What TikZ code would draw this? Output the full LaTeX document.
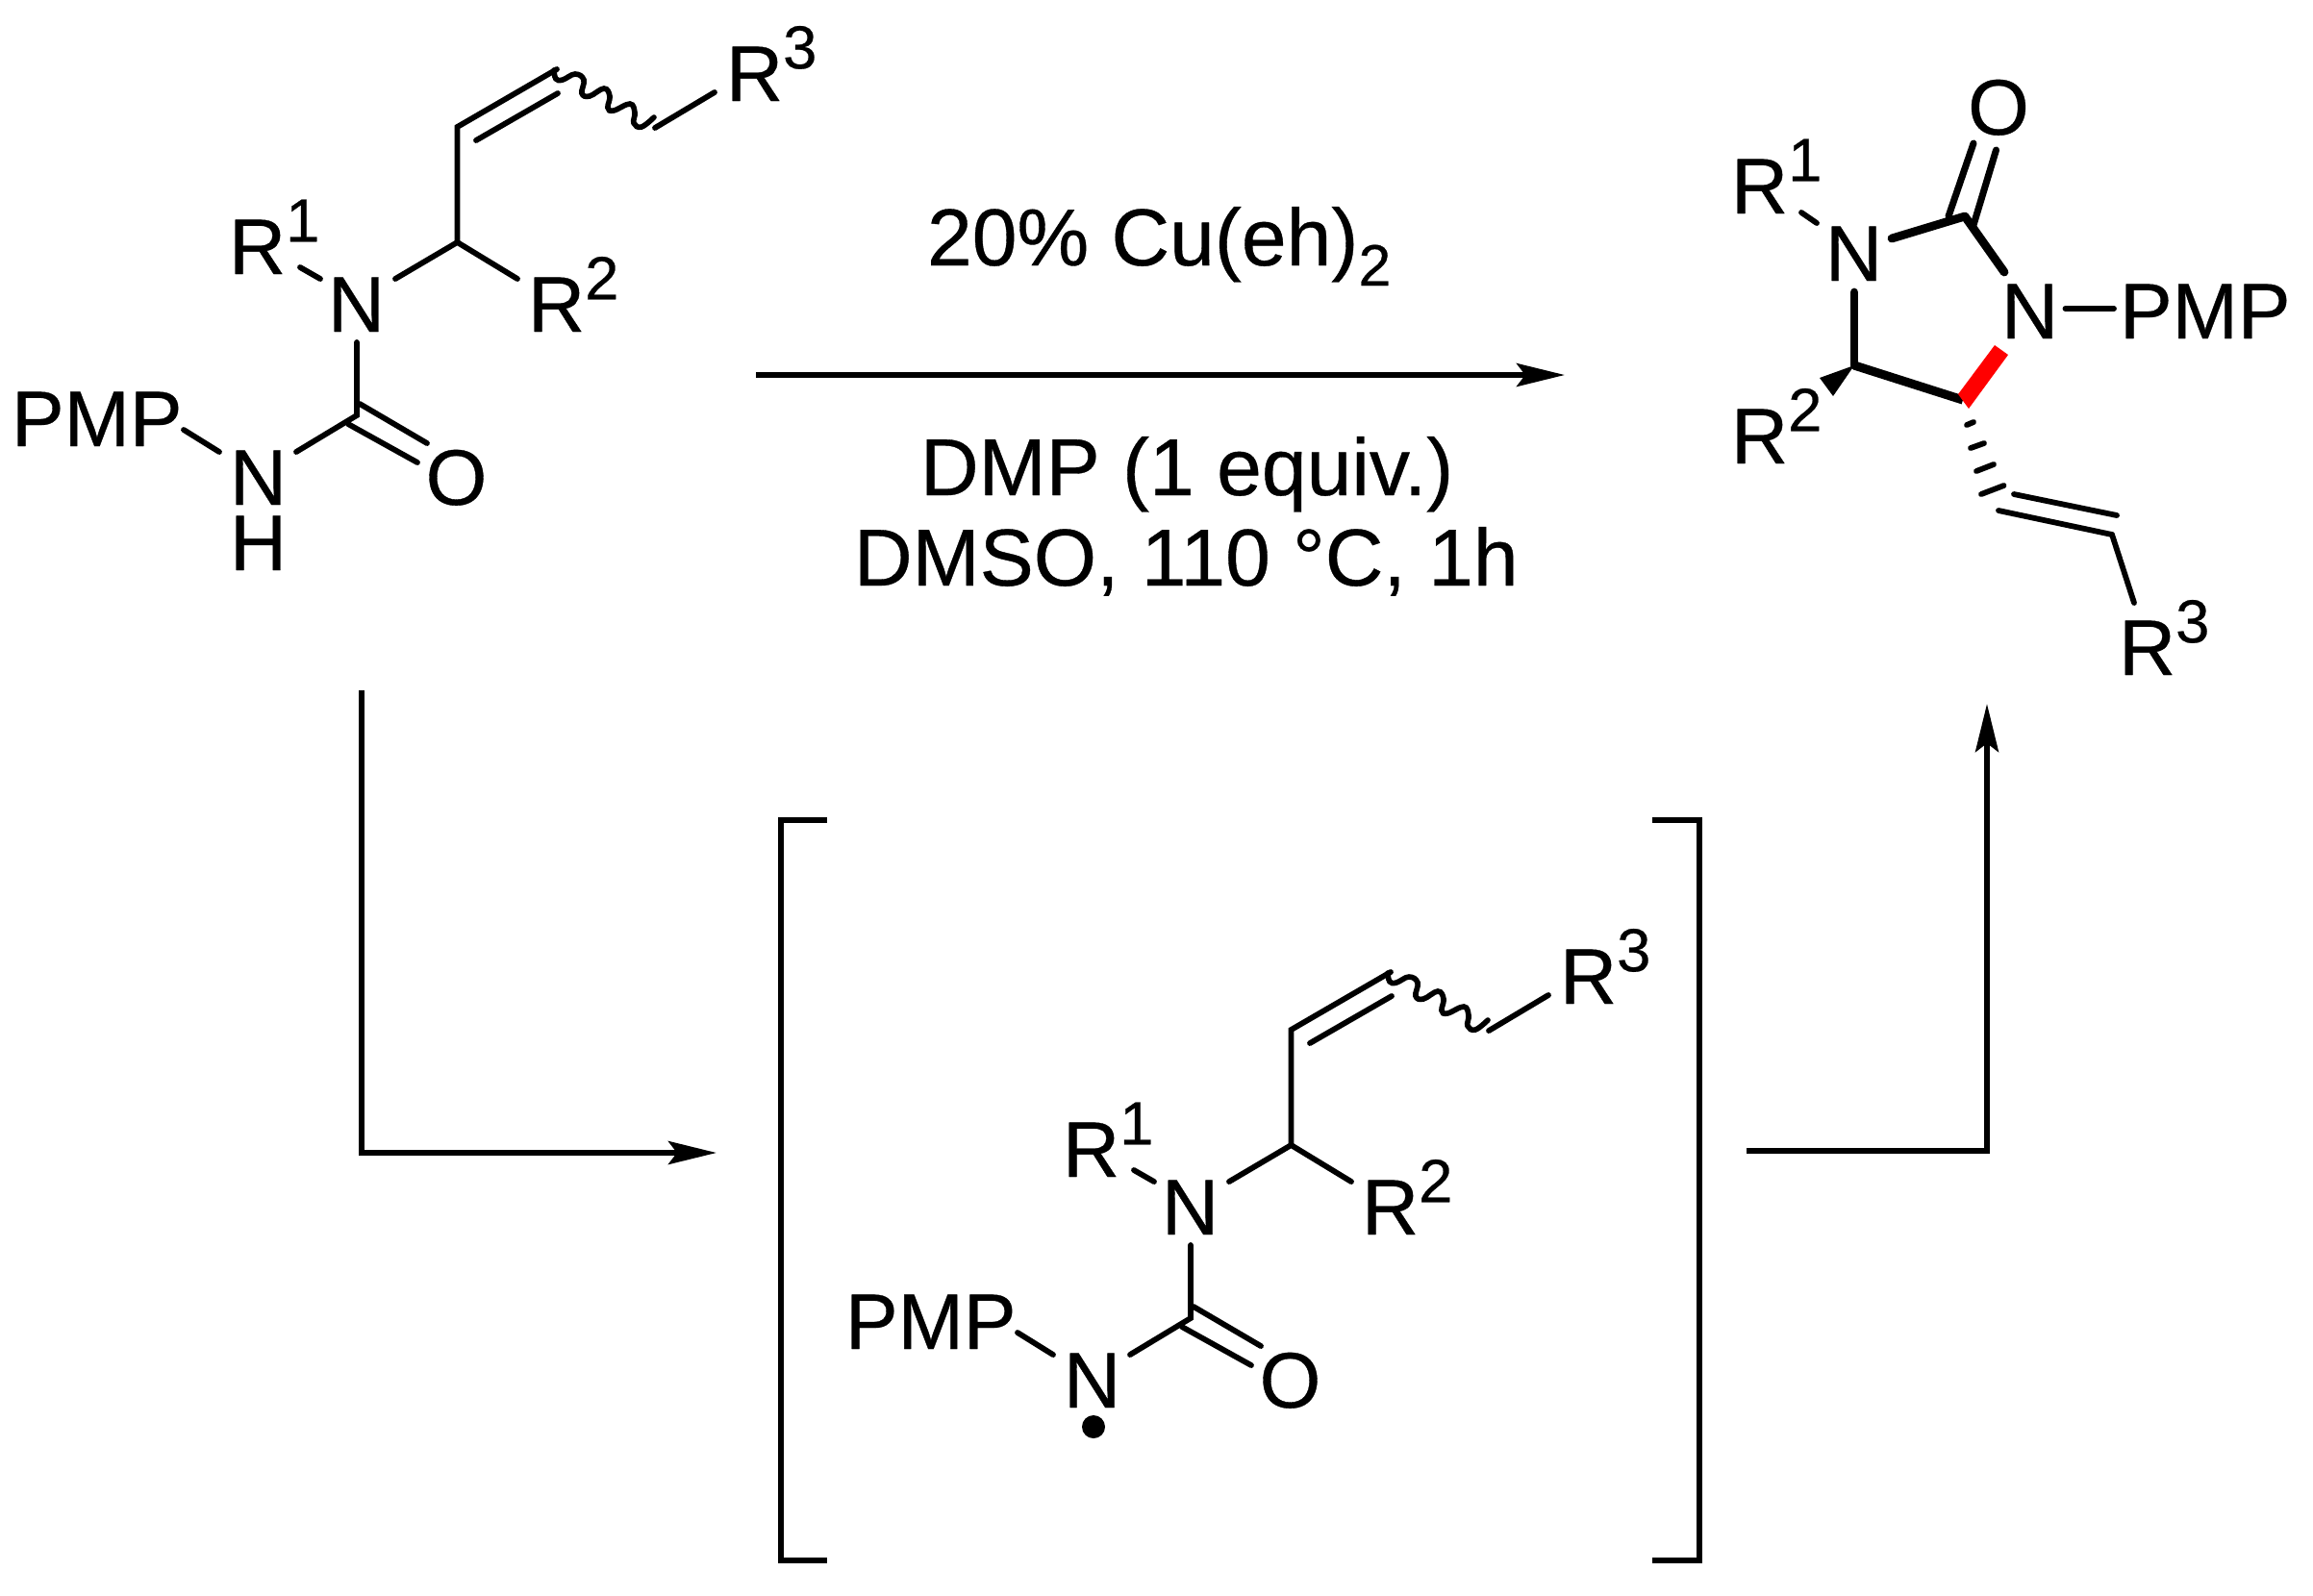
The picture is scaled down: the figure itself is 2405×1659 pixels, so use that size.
\documentclass[tikz,border=0pt]{standalone}
\usepackage{fontspec}
\setmainfont{Liberation Sans}[FakeBold=0.4]
\usetikzlibrary{arrows.meta}
\newcommand{\Rlab}[1]{R\raisebox{9.6pt}{\fontsize{18}{20}\selectfont #1}}
\tikzset{
  x=0.01cm,y=-0.01cm,
  bond/.style={line width=1.65pt,line cap=round,line join=miter},
  boldbond/.style={line width=2.5pt,line cap=round,line join=round},
  rxn/.style={line width=1.65pt,-{Stealth[length=0.5cm,width=0.24cm,inset=0.09cm]}},
  plainline/.style={line width=1.7pt},
  atom/.style={anchor=base west,inner sep=0pt,outer sep=0pt,font=\fontsize{23.3}{26}\selectfont},
  atomc/.style={anchor=base,inner sep=0pt,outer sep=0pt,font=\fontsize{23.3}{26}\selectfont},
  cond/.style={anchor=base west,inner sep=0pt,outer sep=0pt,font=\fontsize{23.9}{28}\selectfont},
  urea/.pic={
    \node[atom] (R1) at (238,285) {\Rlab{1}};
    \node[atom] (N1) at (341,345) {N};
    \node[atom] (R2) at (549,345) {\Rlab{2}};
    \node[atom] (R3) at (755,105) {\Rlab{3}};
    \node[atom] (PMP) at (12,464) {PMP};
    \node[atom] (N2) at (239,525) {N};
    \node[atomc] (O) at (474.5,525) {O};
    \coordinate (c1) at (475.5,252);
    \coordinate (c2) at (475.5,132);
    \coordinate (c3) at (579,72);
    \coordinate (c4) at (681,133);
    \coordinate (c5) at (371,432);
    \coordinate (b1) at (312,278); \coordinate (b2) at (333,290);
    \coordinate (b3) at (411,290); \coordinate (b4) at (538,290);
    \coordinate (b5) at (495,146); \coordinate (b6) at (580,97);
    \coordinate (b7) at (743,96);  \coordinate (b8) at (371,356);
    \coordinate (b9) at (308,470);
    \coordinate (d1) at (374,420); \coordinate (d2) at (444,461);
    \coordinate (d3) at (362,441); \coordinate (d4) at (434,481);
    \coordinate (p1) at (191,447); \coordinate (p2) at (228,470);
    \draw[bond] (b1) -- (b2);
    \draw[bond] (b3) -- (c1) -- (b4);
    \draw[bond] (c1) -- (c2) -- (c3);
    \draw[bond] (b5) -- (b6);
    \draw[bond] (c4) -- (b7);
    \draw[bond] (b8) -- (c5) -- (b9);
    \draw[bond] (d1) -- (d2);
    \draw[bond] (d3) -- (d4);
    \draw[bond] (p1) -- (p2);
    \draw[line width=1.6pt,line cap=round] plot[smooth,tension=0.7] coordinates {
      (576,73) (578,82) (585,83) (598,77) (607,83) (605,97) (613,100) (628,92) (634,100) (632,112) (638,115) (655,108) (660,117) (659,128) (667,132) (680,122)};
  }
}
\begin{document}
\begin{tikzpicture}
\useasboundingbox (0,0) rectangle (2405,1659);
% reactant
\pic[name prefix=A-] at (0,0) {urea};
\node[atom] (A-H) at (239,593) {H};
% intermediate
\pic[name prefix=B-] at (867,939) {urea};
\fill (1137,1484) circle[radius=12] coordinate (dot);
% conditions
\node[cond] (cat) at (964,276) {20\% Cu(eh)\raisebox{-6pt}{\fontsize{17.3}{20}\selectfont 2}};
\node[cond] (ox) at (957,515) {DMP (1 equiv.)};
\node[cond] (sol) at (888,609) {DMSO, 110 °C, 1h};
% arrows
\coordinate (t1) at (786,390); \coordinate (t2) at (1627,390);
\draw[rxn] (t1) -- (t2);
\coordinate (u1) at (376,718); \coordinate (u2) at (376,1199); \coordinate (u3) at (745,1199);
\draw[rxn] (u1) -- (u2) -- (u3);
\coordinate (v1) at (1816,1197); \coordinate (v2) at (2066,1197); \coordinate (v3) at (2066,732);
\draw[rxn] (v1) -- (v2) -- (v3);
% brackets
\coordinate (bl1) at (860,852.5); \coordinate (bl2) at (812,852.5); \coordinate (bl3) at (812,1622.5); \coordinate (bl4) at (860,1622.5);
\draw[plainline] (bl1) -- (bl2) -- (bl3) -- (bl4);
\coordinate (br1) at (1718,852.5); \coordinate (br2) at (1767,852.5); \coordinate (br3) at (1767,1622.5); \coordinate (br4) at (1718,1622.5);
\draw[plainline] (br1) -- (br2) -- (br3) -- (br4);
% product
\node[atom] (P-R1) at (1800,222) {\Rlab{1}};
\node[atom] (P-N1) at (1898,292) {N};
\node[atom] (P-N2) at (2081,352) {N};
\node[atom] (P-PMP) at (2204,352) {PMP};
\node[atomc] (P-O) at (2078,140) {O};
\node[atom] (P-R2) at (1800,482) {\Rlab{2}};
\node[atom] (P-R3) at (2203,702) {\Rlab{3}};
\coordinate (pc) at (2043,225);
\coordinate (pa) at (1967,248);
\coordinate (pb) at (2084,283);
\coordinate (pd) at (1928,304);
\coordinate (pe) at (1928,380);
\coordinate (pf) at (2041,416);
\draw[bond] (1873,221) coordinate (pr) -- (1889,232) coordinate (ps);
\draw[boldbond] (pa) -- (pc) -- (pb);
\draw[boldbond,line width=2pt] (2026,225) coordinate (o1) -- (2052,149) coordinate (o2);
\draw[boldbond,line width=2pt] (2052,234) coordinate (o3) -- (2075.5,156) coordinate (o4);
\draw[boldbond] (pd) -- (pe);
\draw[line width=2.6pt,line cap=butt] (pe) -- (pf);
\fill[red] (2036,410) coordinate (r1) -- (2047,425) coordinate (r2) -- (2088,369) coordinate (r3) -- (2074,359) coordinate (r4) -- cycle;
\fill (pe) -- (1892,393) coordinate (w1) -- (1906,412) coordinate (w2) -- cycle;
\draw[bond] (2045,442) coordinate (h1a) -- (2052,439) coordinate (h1b);
\draw[bond] (2049,466) coordinate (h2a) -- (2063,461) coordinate (h2b);
\draw[bond] (2055,490) coordinate (h3a) -- (2073,483) coordinate (h3b);
\draw[bond] (2060,514) coordinate (h4a) -- (2083.5,505) coordinate (h4b);
\coordinate (ve) at (2196,556);
\draw[bond] (2078,531) coordinate (va) -- (ve);
\draw[bond] (2094,514) coordinate (vb) -- (2201,536) coordinate (vc);
\draw[bond] (ve) -- (2219,627) coordinate (vd);
\draw[bond] (2147.5,321) coordinate (pm1) -- (2198,321) coordinate (pm2);
\end{tikzpicture}
\end{document}
